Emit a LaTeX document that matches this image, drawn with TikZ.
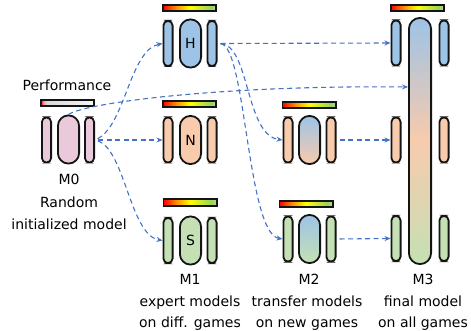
\documentclass[tikz,border=0pt]{standalone}
\usepackage{fontspec}
\setmainfont{DejaVu Sans}
\usetikzlibrary{arrows.meta}

% palette
\definecolor{flow}{HTML}{4472C4}
\definecolor{outline}{HTML}{141414}
\definecolor{hblue}{HTML}{9DC3E6}
\definecolor{npeach}{HTML}{F8CBAD}
\definecolor{sgreen}{HTML}{C5E0B4}
\definecolor{rpink}{HTML}{E9C9DA}
\definecolor{barred}{HTML}{FF0000}
\definecolor{barorange}{HTML}{FF8C00}
\definecolor{baryellow}{HTML}{FFFF00}
\definecolor{bargreen}{HTML}{9BD35A}
\definecolor{barend}{HTML}{B5D9A0}
\definecolor{perfgrey}{HTML}{D9D9D9}

% score bars: red -> yellow -> green, and the nearly empty one
\pgfdeclarehorizontalshading{scorebar}{100bp}{%
  color(0bp)=(barred); color(25bp)=(barred); color(37bp)=(barorange);
  color(50bp)=(baryellow); color(70bp)=(bargreen); color(75bp)=(barend);
  color(100bp)=(barend)}
\pgfdeclarehorizontalshading{perfbar}{100bp}{%
  color(0bp)=(barred); color(25bp)=(barred); color(27bp)=(barred!45!white);
  color(30bp)=(perfgrey); color(75bp)=(white!96!black); color(100bp)=(white!96!black)}

\begin{document}
\begin{tikzpicture}[x=1pt,y=-1pt,
  every node/.style={font=\fontsize{14}{16}\selectfont, inner sep=0pt},
  side/.style={draw=outline, line width=1.8pt, fill=#1,
    minimum width=9.2pt, minimum height=45.2pt, rounded corners=4.6pt},
  core/.style={draw=outline, line width=1.8pt, fill=#1,
    minimum width=21.2pt, minimum height=48.2pt, rounded corners=10.6pt},
  score/.style={draw=outline, line width=1.8pt, shading=scorebar,
    minimum width=53.2pt, minimum height=6.4pt},
  flowline/.style={draw=flow, line width=1.1pt, dash pattern=on 5pt off 3.5pt,
    -{Stealth[length=6pt,width=5pt]}},
  caption/.style={anchor=base}]
\useasboundingbox (0,0) rectangle (471,331);

% ---- M0: random initialized model
\node[caption] (perflabel) at (67,90.5) {Performance};
\node[draw=outline, line width=1.8pt, shading=perfbar,
  minimum width=53.2pt, minimum height=6.4pt] (perf) at (67.5,103) {};
\node[side=rpink] (m0l) at (46.5,140) {};
\node[core=rpink] (m0c) at (68.5,139.5) {};
\node[side=rpink] (m0r) at (89.5,140) {};
\node[caption] (m0t1) at (69,185) {M0};
\node[caption] (m0t2) at (69,207.5) {Random};
\node[caption] (m0t3) at (69,229.5) {initialized model};

% ---- M1: expert models (H, N, S)
\node[score] (hbar) at (189.5,8) {};
\node[side=hblue] (hl) at (168,43.5) {};
\node[core=hblue] (hc) at (190.5,43.5) {H};
\node[side=hblue] (hr) at (212,43.5) {};

\node[score] (nbar) at (189.5,104) {};
\node[side=npeach] (nl) at (168,140) {};
\node[core=npeach] (nc) at (190.5,140) {N};
\node[side=npeach] (nr) at (212,140) {};

\node[score] (sbar) at (190,202.5) {};
\node[side=sgreen] (sl) at (168,240.5) {};
\node[core=sgreen] (sc) at (190.5,240.5) {S};
\node[side=sgreen] (sr) at (212,240.5) {};

\node[caption] (m1t1) at (190,284.5) {M1};
\node[caption] (m1t2) at (190,306) {expert models};
\node[caption] (m1t3) at (190,327) {on diff. games};

% ---- M2: transfer models
\node[score] (tbar1) at (309,105) {};
\node[side=npeach] (t1l) at (288,140) {};
\node[core=npeach, top color=hblue, bottom color=npeach] (t1c) at (309.5,140) {};
\node[side=npeach] (t1r) at (331,140) {};

\node[score] (tbar2) at (306,204) {};
\node[side=sgreen] (t2l) at (288,239) {};
\node[core=sgreen, top color=hblue, bottom color=sgreen] (t2c) at (309.5,239) {};
\node[side=sgreen] (t2r) at (331,239) {};

\node[caption] (m2t1) at (309,284.5) {M2};
\node[caption] (m2t2) at (307,306) {transfer models};
\node[caption] (m2t3) at (307,327) {on new games};

% ---- M3: final model
\node[score] (fbar) at (417.5,8) {};
\node[draw=outline, line width=1.8pt, minimum width=22.2pt, minimum height=246.2pt,
  rounded corners=11.1pt, top color=hblue, bottom color=sgreen, middle color=npeach]
  (fc) at (420,141) {};
\node[side=hblue] (fl1) at (396,43) {};
\node[side=hblue] (fr1) at (444,43) {};
\node[side=npeach] (fl2) at (396,140) {};
\node[side=npeach] (fr2) at (444,140) {};
\node[side=sgreen] (fl3) at (396,238.5) {};
\node[side=sgreen] (fr3) at (444,238.5) {};

\node[caption] (m3t1) at (423,284.5) {M3};
\node[caption] (m3t2) at (423,306) {final model};
\node[caption] (m3t3) at (423,327) {on all games};

% ---- connectors
\coordinate (fin) at (0,87);
\draw[flowline, shorten <=3pt] (m0r.east) .. controls (125,125) and (130,50) .. (hl.west);
\draw[flowline, shorten <=3pt] (m0r.east) -- (nl.west);
\draw[flowline, shorten <=3pt] (m0r.east) .. controls (125,150) and (130,235) .. (sl.west);
\draw[flowline] (m0c.north) .. controls (85,103) and (220,85) .. (fc.west |- fin);

\draw[flowline, shorten <=3pt] (hr.east) -- (fl1.west);
\draw[flowline, shorten <=3pt] (hr.east) .. controls (250,45) and (245,135) .. (t1l.west);
\draw[flowline, shorten <=3pt] (hr.east) .. controls (246,45) and (247,233) .. (t2l.west);

\draw[flowline, shorten <=3pt] (t1r.east) -- (fl2.west);
\draw[flowline, shorten <=3pt] (t2r.east) -- (fl3.west);
\end{tikzpicture}
\end{document}
